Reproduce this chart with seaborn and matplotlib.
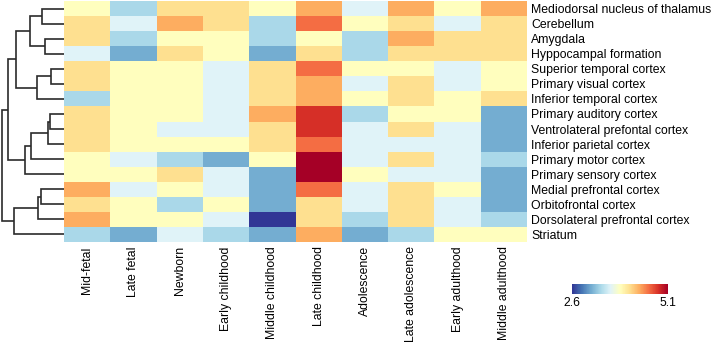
import numpy as np
import pandas as pd
import matplotlib
matplotlib.use("Agg")
import matplotlib.pyplot as plt
import seaborn as sns

sns.set_style("white")
plt.rcParams['font.family'] = ['Liberation Sans', 'DejaVu Sans']
plt.rcParams['text.color'] = 'black'
plt.rcParams['xtick.color'] = 'black'
plt.rcParams['ytick.color'] = 'black'

regions = ["Mediodorsal nucleus of thalamus", "Cerebellum", "Amygdala",
           "Hyppocampal formation", "Superior temporal cortex", "Primary visual cortex",
           "Inferior temporal cortex", "Primary auditory cortex",
           "Ventrolateral prefontal cortex", "Inferior parietal cortex",
           "Primary motor cortex", "Primary sensory cortex", "Medial prefrontal cortex",
           "Orbitofrontal cortex", "Dorsolateral prefrontal cortex", "Striatum"]

stages = ["Mid-fetal", "Late fetal", "Newborn", "Early childhood", "Middle childhood",
          "Late childhood", "Adolescence", "Late adolescence", "Early adulthood",
          "Middle adulthood"]

# values per developmental stage (one value per region, in row order)
mid_fetal        = [3.85, 4.10, 4.10, 3.60, 4.10, 4.10, 3.35, 4.10, 4.10, 4.10, 3.85, 3.85, 4.35, 4.10, 4.35, 3.35]
late_fetal       = [3.35, 3.60, 3.35, 3.10, 3.85, 3.85, 3.85, 3.85, 3.85, 3.85, 3.60, 3.85, 3.60, 3.85, 3.85, 3.10]
newborn          = [4.10, 4.35, 3.85, 4.10, 3.85, 3.85, 3.85, 3.85, 3.60, 3.85, 3.35, 4.10, 3.85, 3.35, 3.85, 3.60]
early_childhood  = [4.10, 4.10, 3.85, 3.85, 3.60, 3.60, 3.60, 3.60, 3.60, 3.85, 3.10, 3.60, 3.60, 3.85, 3.60, 3.35]
middle_childhood = [3.85, 3.35, 3.35, 3.10, 4.10, 4.10, 4.10, 4.35, 4.10, 4.10, 3.85, 3.10, 3.10, 3.10, 2.60, 3.10]
late_childhood   = [4.35, 4.60, 3.85, 4.10, 4.60, 4.35, 4.35, 4.85, 4.85, 4.60, 5.10, 5.10, 4.60, 4.10, 4.10, 4.35]
adolescence      = [3.60, 3.85, 3.35, 3.35, 3.85, 3.60, 3.85, 3.35, 3.60, 3.60, 3.60, 3.85, 3.60, 3.60, 3.35, 3.10]
late_adolescence = [4.35, 4.10, 4.35, 4.10, 3.85, 4.10, 4.10, 3.85, 4.10, 3.60, 4.10, 3.60, 4.10, 4.10, 4.10, 3.35]
early_adulthood  = [3.85, 3.60, 4.10, 4.10, 3.60, 3.60, 3.85, 3.85, 3.60, 3.60, 3.60, 3.60, 3.85, 3.60, 3.60, 3.85]
middle_adulthood = [4.35, 4.10, 4.10, 4.10, 3.85, 3.85, 4.10, 3.10, 3.10, 3.10, 3.35, 3.10, 3.10, 3.10, 3.35, 3.85]

# row dendrogram (leaves 0..15 in display order; new clusters numbered 16, 17, ...)
link_left   = [0, 2, 16, 4, 19, 18, 7, 22, 23, 24, 21, 12, 27, 28, 26]
link_right  = [1, 3, 17, 5, 6, 20, 8, 9, 10, 11, 25, 13, 14, 15, 29]
link_height = [3.55, 3.06, 5.48, 2.10, 4.35, 7.74, 2.26, 2.58, 5.32, 6.29, 9.11, 3.71, 4.19, 8.06, 10.0]

df = pd.DataFrame({
    stages[0]: mid_fetal, stages[1]: late_fetal, stages[2]: newborn,
    stages[3]: early_childhood, stages[4]: middle_childhood, stages[5]: late_childhood,
    stages[6]: adolescence, stages[7]: late_adolescence, stages[8]: early_adulthood,
    stages[9]: middle_adulthood}, index=regions)

W, H = 713, 346
fig = plt.figure(figsize=(W / 100, H / 100), dpi=100)

hx0, hx1, hy0, hy1 = 64, 527, 1, 242
ax = fig.add_axes([hx0 / W, 1 - hy1 / H, (hx1 - hx0) / W, (hy1 - hy0) / H])
dax = fig.add_axes([0, 1 - hy1 / H, hx0 / W, (hy1 - hy0) / H])
cax = fig.add_axes([572 / W, 1 - 294 / H, 96 / W, 10 / H])

sns.heatmap(df, cmap="RdYlBu_r", vmin=2.6, vmax=5.1, ax=ax, cbar_ax=cax,
            cbar_kws={"orientation": "horizontal", "ticks": [2.6, 5.1]},
            linewidths=0)

ax.yaxis.tick_right()
ax.set_yticks(np.arange(len(regions)) + 0.5)
ax.set_yticklabels(regions, rotation=0, fontsize=8.8)
ax.set_xticklabels(stages, rotation=90, fontsize=8.8)
ax.tick_params(axis="both", length=0, pad=3)
ax.set_xlabel("")
ax.set_ylabel("")

cax.tick_params(length=0, labelsize=8.8, pad=2)
cax.set_xticklabels(["2.6", "5.1"])
cb = ax.collections[0].colorbar
cb.outline.set_visible(False)

# dendrogram
n = len(regions)
pos = {i: (i + 0.5, 0.0) for i in range(n)}
for k, (a, b, h) in enumerate(zip(link_left, link_right, link_height)):
    ya, ha = pos[a]
    yb, hb = pos[b]
    dax.plot([ha, h, h, hb], [ya, ya, yb, yb], color="#2b2b2b", lw=1.2,
             solid_capstyle="butt", solid_joinstyle="miter")
    pos[n + k] = ((ya + yb) / 2, h)
dax.set_ylim(n, 0)
dax.set_xlim(max(link_height) * 64 / 62, 0)
dax.axis("off")

fig.savefig("out.png", dpi=100)
